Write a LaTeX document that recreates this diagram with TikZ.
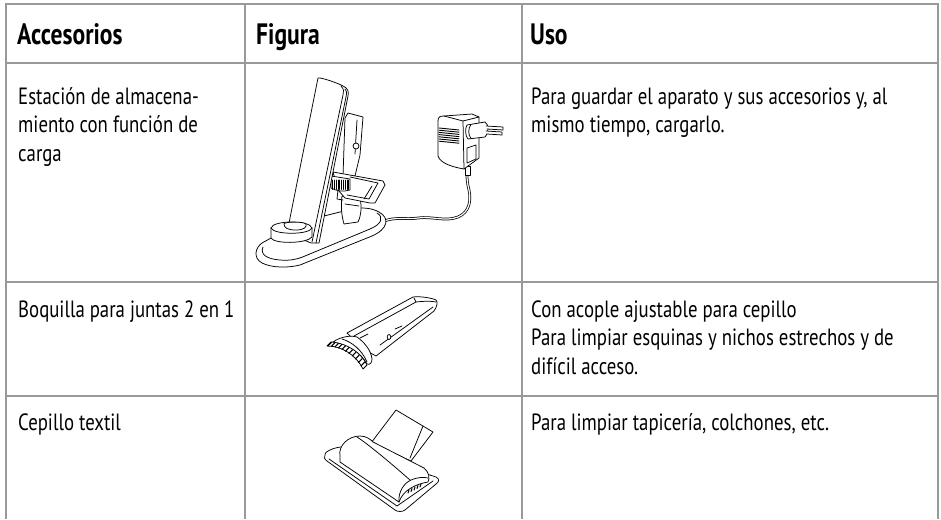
\documentclass[tikz,border=0pt]{standalone}
\usepackage{fontspec}
\setmainfont{PT Sans}[FakeStretch=0.8]
\begin{document}
\begin{tikzpicture}[x=1pt,y=-1pt,
  grid/.style={draw=black!40, line width=2pt},
  hdr/.style={anchor=base west, inner sep=0pt, font=\fontsize{29.5}{32}\selectfont\bfseries},
  txt/.style={anchor=base west, inner sep=0pt, font=\fontsize{23.5}{28}\selectfont},
  art/.style={line width=0.75pt, line join=round, line cap=round},
  artf/.style={art, fill=white}]
\useasboundingbox (0,0) rectangle (941,519);
% grid
\draw[grid] (5.5,4) -- (938,4);
\draw[grid] (5.5,63) -- (938,63);
\draw[grid] (5.5,282) -- (938,282);
\draw[grid] (5.5,396) -- (938,396);
\draw[grid] (5.5,3) -- (5.5,519);
\draw[grid] (245,3) -- (245,519);
\draw[grid] (522,3) -- (522,519);
\draw[grid] (938,3) -- (938,519);
% header
\node[hdr] (h1) at (17,45) {Accesorios};
\node[hdr] (h2) at (256,45) {Figura};
\node[hdr] (h3) at (530,45) {Uso};
% row 1
\node[txt] (a1) at (18,104) {Estación de almacena-};
\node[txt] (a2) at (18,132.5) {miento con función de};
\node[txt] (a3) at (18,161) {carga};
\node[txt] (u1) at (531,104) {Para guardar el aparato y sus accesorios y, al};
\node[txt] (u2) at (531,132.5) {mismo tiempo, cargarlo.};
% row 2
\node[txt] (b1) at (18,317) {Boquilla para juntas 2 en 1};
\node[txt] (v1) at (531,317) {Con acople ajustable para cepillo};
\node[txt] (v2) at (531,345.5) {Para limpiar esquinas y nichos estrechos y de};
\node[txt] (v3) at (531,374) {difícil acceso.};
% row 3
\node[txt] (c1) at (18,430) {Cepillo textil};
\node[txt] (w1) at (531,430) {Para limpiar tapicería, colchones, etc.};

% ================= charging station =================
% cable (double line)
\draw[art, double=white, double distance=1.2pt]
  (382,222) .. controls (395,216) and (405,220) .. (418,218)
  .. controls (432,216) and (445,222) .. (458,217)
  .. controls (470,212) and (471,200) .. (469,190)
  .. controls (467,182) and (467,178) .. (467,174);
% adapter
\draw[artf] (465,166) rectangle (470,175);
\draw[artf] (438,121) .. controls (438,117) and (440,116) .. (444,116)
  -- (472,114) -- (479,117) -- (479,158) -- (464,169)
  .. controls (452,167) and (440,163) .. (438,156) -- cycle;
\draw[art] (444,116) -- (463,121) -- (479,117);
\draw[art] (463,121) -- (464,169);
\foreach \i in {0,...,6} \draw[art, line width=0.9pt] (439,{128+2.2*\i}) -- (459,{130+2.2*\i});
\draw[art] (467,148) -- (476,145) -- (476,159) -- (467,163) -- cycle;
% plug
\draw[artf] (467,125) -- (485,122) .. controls (489,124) and (489,134) .. (485,137) -- (468,139) .. controls (465,136) and (465,128) .. (467,125);
\draw[art] (471,124.5) .. controls (468,128) and (468,135) .. (471,138.5);
\draw[artf] (486,126) -- (503,127) -- (503,130) -- (487,129);
\draw[artf] (486,131) -- (502,132) -- (502,135) -- (487,134);

% base
\draw[artf] (262,243) .. controls (255,248) and (253,258) .. (262,263)
  .. controls (272,268) and (288,268) .. (300,265)
  -- (372,236) .. controls (388,229) and (390,218) .. (379,212)
  .. controls (372,208) and (362,207) .. (352,209) -- (300,222) -- cycle;
\draw[art] (263,247) .. controls (260,254) and (266,259) .. (280,260)
  .. controls (290,261) and (298,259) .. (305,256)
  -- (370,229) .. controls (382,224) and (384,217) .. (377,213);
% behind-panel column: upper box
\draw[artf] (348,113) -- (363,117) -- (360,155) -- (355,176) -- (343,176) -- (345,118) -- cycle;
\draw[art] (357,120) -- (355,154);
\draw[artf] (356,146) circle (3);
% lower column
\draw[artf] (342,196) -- (360,199) .. controls (362,206) and (361,216) .. (358,222)
  -- (344,224) .. controls (341,214) and (341,204) .. (342,196) -- cycle;
\draw[art] (345,204) -- (359,206);
% nozzle bracket sticking right
\draw[artf] (333,172) -- (383,181) -- (385,185) -- (375,203) -- (370,203) -- (345,198) -- (338,190) -- cycle;
\draw[art] (350,177) -- (378,183) -- (369,199) -- (347,195);
\draw[art] (372,186) -- (364,199);
% brush ring
\draw[artf] (331,176) -- (350,179) -- (350,190) .. controls (344,192) and (336,191) .. (331,188) -- cycle;
\foreach \i in {0,...,9} \draw[art, line width=0.7pt] ({332.5+1.8*\i},180) -- ({332.5+1.8*\i},189.5);
\draw[art] (338,190) -- (337,199) -- (343,200);
% panel
\draw[artf] (318,78) .. controls (320,77) and (338,83) .. (343,86)
  .. controls (348,88) and (349,92) .. (348,96)
  -- (319,243) -- (311,243) -- (287,233) -- cycle;
\draw[art] (341,86) .. controls (344,89) and (344,92) .. (343,95) -- (312,242);
\draw[art] (345,89) .. controls (347,92) and (347,94) .. (346,97) -- (316,243);
% cup
\draw[artf] (271,228) -- (271,238) .. controls (274,244) and (306,244) .. (312,237) -- (312,228)
  .. controls (310,220) and (273,220) .. (271,228) -- cycle;
\draw[art] (271,228) .. controls (274,235) and (309,235) .. (312,228);
\draw[artf] (284,224) .. controls (283,222) and (303,221) .. (306,224)
  .. controls (307,227) and (304,230) .. (296,230)
  .. controls (288,230) and (284,228) .. (284,224) -- cycle;

% ================= crevice nozzle =================
\draw[artf] (347,333) -- (413,297) .. controls (420,296) and (432,298) .. (436,300)
  .. controls (438,302) and (437,307) .. (434,311) -- (376,356) -- (365,350) -- cycle;
\draw[art] (354,336) -- (416,302) .. controls (425,301) and (432,301) .. (436,302);
\draw[art] (416,302) -- (414,298);
\draw[art] (380,345) -- (433,307);
\draw[artf] (389,337) ellipse (1.8 and 2.5);
\draw[art] (395,329) -- (402,326);
\draw[art] (360,338) -- (368,334);
% bristles band
\draw[artf] (327,346) .. controls (342,346) and (356,355) .. (363,369)
  -- (367,365) .. controls (360,351) and (346,342) .. (331,342) -- cycle;
\foreach \x/\y in {328/346,331.5/346.3,335/347,338.5/348,342/349.5,345.5/351.3,349/353.5,352.3/356,355.5/359,358.5/362.5,361/366}
  \draw[art, line width=1.1pt] (\x,\y) -- ++(3.5,-3.8);
% flange
\draw[artf] (333,342) .. controls (340,337) and (350,335) .. (357,337)
  .. controls (364,342) and (371,350) .. (372,359)
  .. controls (372,363) and (370,365) .. (367,364)
  .. controls (361,353) and (348,344) .. (333,342) -- cycle;
\draw[art] (342,339) .. controls (352,342) and (362,350) .. (367,362);

% ================= textile brush =================
% tube
\draw[artf] (396,410) -- (433,432) -- (411,461) -- (371,443) -- cycle;
\draw[art] (423,426) -- (410,458);
% plate
\draw[artf] (325,455) .. controls (324,451) and (338,446) .. (345,447)
  -- (436,477) .. controls (440,479) and (439,482) .. (436,484)
  -- (405,510) .. controls (402,512) and (398,512) .. (395,510)
  -- (327,461) .. controls (324,459) and (324,457) .. (325,455) -- cycle;
\draw[art] (329,459) -- (397,506) -- (433,481);
% roller housing
\draw[artf] (340,456) .. controls (338,446) and (348,436) .. (360,436)
  .. controls (366,436) and (370,439) .. (373,442)
  -- (424,468) .. controls (429,472) and (430,478) .. (428,482)
  .. controls (416,484) and (403,490) .. (399,502)
  -- (340,462) -- cycle;
\draw[art] (399,502) .. controls (398,492) and (404,483) .. (411,480) .. controls (418,477) and (424,477) .. (428,478);
\draw[art] (357,437) .. controls (365,442) and (385,458) .. (410,480);
\foreach \i in {0,...,4} \draw[art, line width=1pt] ({408+3*\i},{493-1.5*\i}) -- ({409+3*\i},{490-1.5*\i});
\end{tikzpicture}
\end{document}
